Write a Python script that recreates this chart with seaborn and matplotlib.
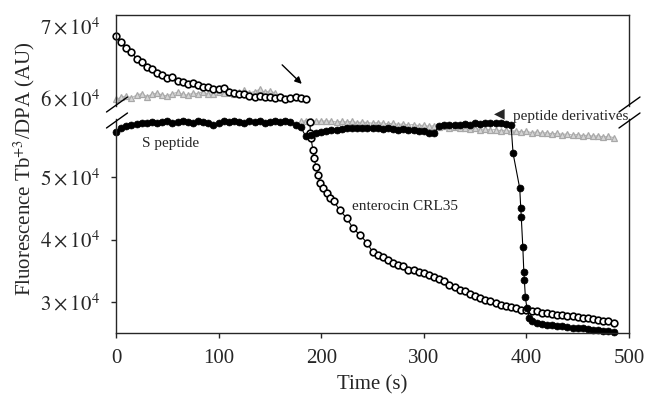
import numpy as np
import matplotlib
matplotlib.use('Agg')
import matplotlib.pyplot as plt
import seaborn as sns
from matplotlib.ticker import FuncFormatter
from matplotlib.lines import Line2D

# enterocin CRL35 (open circles) - before addition (upper panel)
ent_t_top = np.arange(0, 186, 5)
ent_top = [68700, 67800, 67000, 66400, 65500, 65000, 64400, 64000, 63500, 63200,
           62800, 62900, 62400, 62200, 62000, 62100, 61800, 61600, 61500, 61300,
           61200, 61400, 60900, 60700, 60600, 60500, 60300, 60200, 60300, 60100,
           60200, 60000, 60100, 59900, 60000, 60100, 60000, 59900]
# enterocin CRL35 - after addition (lower panel)
ent_t_bot = [189, 189.5, 190, 192, 193, 195, 197, 199, 202, 206,
             209, 212, 218, 225, 231, 238, 245, 250, 255, 260] + list(range(265, 486, 5))
ent_bot = [58800, 57000, 56200, 54300, 53000, 51600, 50300, 49000, 48200, 47400,
           46600, 46200, 44700, 43400, 41800, 40700, 39400, 38000, 37600, 37200,
           36700, 36300, 35900, 35700, 35200, 35200, 34800, 34600, 34300, 34000,
           33700, 33400, 32700, 32400, 32000, 31700, 31300, 31000, 30700, 30400,
           30100, 29800, 29600, 29400, 29200, 29000, 28800, 28700, 28600, 28500,
           28300, 28200, 28100, 28000, 27900, 27800, 27700, 27600, 27500, 27400,
           27300, 27200, 27000, 26900, 26700]

# S peptide (filled circles)
sp_t = (list(range(0, 181, 5)) + list(range(185, 386, 5))
        + [387, 393.5, 394.5, 395, 396.5, 397.5, 398, 399, 400.5, 403]
        + list(range(405, 486, 5)))
sp_val = [57200, 57900, 58100, 58300, 58500, 58700, 58600, 58800, 58700, 58800,
          58900, 58700, 58800, 58900, 58800, 58700, 58900, 58800, 58600, 58300,
          58700, 58900, 58800, 58900, 58800, 58700, 58900, 58800, 58900, 58700,
          58800, 58900, 58800, 58900, 58800, 58400, 58000,
          56500, 56800, 57000, 57200, 57300, 57500, 57600, 57700, 57800, 57900,
          57800, 57900, 57800, 57900, 57800, 57700, 57800, 57700, 57600, 57700,
          57500, 57600, 57400, 57300, 57100, 57000, 58200, 58300, 58300, 58400,
          58300, 58500, 58400, 58600, 58500, 58600, 58700, 58600, 58600, 58500,
          58400,
          53800, 48200, 45000, 43600, 38800, 34800, 33500, 30800, 29000, 27400,
          27000, 26700, 26500, 26400, 26300, 26200, 26100, 26000, 25900, 25900,
          25800, 25700, 25600, 25600, 25400, 25300, 25200]

# peptide derivatives (grey triangles)
pd_t_top = np.arange(0, 156, 5)
pd_top = [59800, 60100, 60300, 60000, 60400, 60600, 60200, 60500, 60700, 60400,
          60300, 60600, 60800, 60500, 60400, 60700, 60600, 60900, 60500, 60600,
          60800, 60700, 61000, 60600, 60800, 61100, 60700, 60900, 61200, 60800,
          61000, 60700]
pd_t_bot = np.arange(180, 486, 5)
pd_bot = [58900, 59000, 58900, 59000, 58900, 59000, 58900, 58800, 58900, 58800,
          58900, 58700, 58800, 58700, 58600, 58700, 58600, 58500, 58600, 58400,
          58500, 58300, 58400, 58200, 58300, 58100, 58200, 58000, 58100, 57900,
          58000, 57800, 57900, 57700, 57800, 57600, 57700, 57500, 57600, 57400,
          57500, 57300, 57400, 57200, 57300, 57100, 57200, 57000, 57100, 56900,
          57000, 56800, 56900, 56700, 56800, 56600, 56700, 56500, 56600, 56400,
          56500, 56300]

sns.set_style('ticks')
plt.rcParams['font.family'] = ['Liberation Serif', 'DejaVu Sans']
plt.rcParams['mathtext.fontset'] = 'stix'
plt.rcParams['axes.linewidth'] = 1.0

W, H = 647, 400
fig = plt.figure(figsize=(W / 100, H / 100), dpi=100)
left, right = 116 / W, 629 / W
ax_top = fig.add_axes([left, 1 - 106 / H, right - left, (106 - 15) / H])
ax_bot = fig.add_axes([left, 1 - 333 / H, right - left, (333 - 119) / H])

open_kw = dict(color='black', lw=0.8, marker='o', markersize=4.8,
               markerfacecolor='white', markeredgecolor='black', markeredgewidth=1.2)
fill_kw = dict(color='black', lw=0.8, marker='o', markersize=5.0,
               markerfacecolor='black', markeredgecolor='black', markeredgewidth=0.5)
grey_kw = dict(color='#b5b5b5', lw=0.8, marker='^', markersize=5.0,
               markerfacecolor='#d6d6d6', markeredgecolor='#a8a8a8', markeredgewidth=0.9)


def draw(ax, t, v, kw):
    sns.lineplot(x=list(t), y=v, ax=ax, sort=False, estimator=None, clip_on=False, **kw)


draw(ax_top, pd_t_top, pd_top, grey_kw)
draw(ax_top, ent_t_top, ent_top, open_kw)
draw(ax_bot, pd_t_bot, pd_bot, grey_kw)
draw(ax_bot, ent_t_bot, ent_bot, open_kw)
draw(ax_bot, sp_t, sp_val, fill_kw)

fmt = FuncFormatter(lambda v, p: r'$%d\times10^{4}$' % round(v / 1e4))
for ax in (ax_top, ax_bot):
    ax.set_xlim(0, 500)
    ax.yaxis.set_major_formatter(fmt)
    ax.set_xlabel('')
    ax.set_ylabel('')

ax_top.set_ylim(58880, 71600)
ax_top.set_yticks([60000, 70000])
ax_top.tick_params(axis='y', length=0, pad=11.5, labelsize=15)
ax_top.set_xticks([])
ax_top.spines['bottom'].set_visible(False)

ax_bot.set_ylim(25040, 59280)
ax_bot.set_yticks([30000, 40000, 50000])
ax_bot.set_xticks([0, 100, 200, 300, 400, 500])
ax_bot.tick_params(axis='both', length=3.6, width=1.0, pad=8, labelsize=15)
ax_bot.tick_params(axis='x', pad=8)
ax_bot.spines['top'].set_visible(False)
ax_bot.set_xlabel('Time (s)', fontsize=15, labelpad=5)

fig.text(24 / W, 1 - 169 / H, r'Fluorescence Tb$^{+3}$/DPA (AU)', rotation=90,
         ha='center', va='center', fontsize=15)

# annotations
ax_top.annotate('', xy=(183, 61700), xytext=(160, 64900),
                arrowprops=dict(arrowstyle='-|>', color='black', lw=1.0, mutation_scale=10))
ax_bot.text(25, 55440, 'S peptide', fontsize=11, ha='left', va='center')
ax_bot.text(230, 45360, 'enterocin CRL35', fontsize=11, ha='left', va='center')
ax_bot.text(374, 60240, '\u25c0', family='DejaVu Sans', fontsize=10,
            ha='center', va='center', clip_on=False)
ax_bot.text(387, 59650, 'peptide derivatives', fontsize=11, ha='left', va='center')

# axis break marks
for xp in (116.5, 629):
    for yp in (105, 121):
        fig.add_artist(Line2D([(xp - 10) / W, (xp + 11) / W],
                              [1 - (yp + 7) / H, 1 - (yp - 8) / H],
                              color='black', lw=1.0, transform=fig.transFigure))

fig.savefig('out.png', dpi=100)
